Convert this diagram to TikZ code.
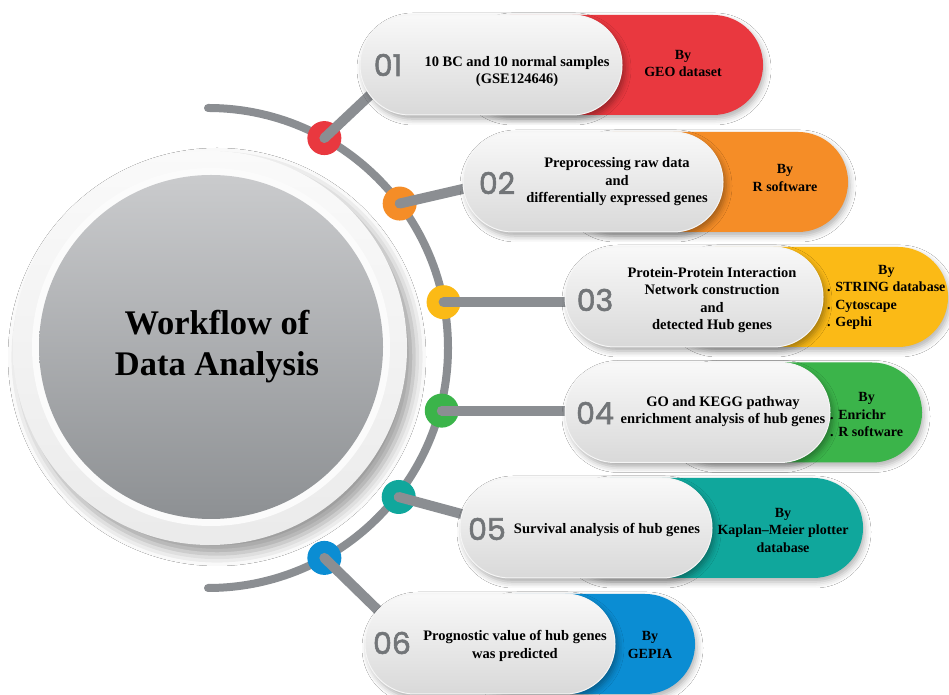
\documentclass[tikz,border=0pt]{standalone}
\usepackage{fontspec}
\setmainfont{Liberation Serif}
\newfontfamily\numfont[FakeBold=2]{Poppins}
\usetikzlibrary{shadows.blur,calc}

\definecolor{linegray}{HTML}{8B8E92}
\definecolor{numgray}{HTML}{727578}
\definecolor{discTop}{HTML}{CACBCD}
\definecolor{discBot}{HTML}{8D9093}
\definecolor{cRed}{HTML}{E9383F}
\definecolor{cOrange}{HTML}{F58D27}
\definecolor{cYellow}{HTML}{FBBA16}
\definecolor{cGreen}{HTML}{3BB44A}
\definecolor{cTeal}{HTML}{10A79C}
\definecolor{cBlue}{HTML}{0B8DD3}

\tikzset{
  capsule/.style={rectangle, rounded corners=49.9pt, minimum height=100pt,
    inner sep=0pt, draw=none},
  greypill/.style={capsule, top color=gray!5, bottom color=gray!30,
    draw=white!92!gray, line width=1pt,
    blur shadow={shadow xshift=3pt, shadow yshift=-4pt,
      shadow blur radius=6pt, shadow opacity=35}},
  colpill/.style={capsule, fill=#1,
    blur shadow={shadow xshift=2pt, shadow yshift=-4pt,
      shadow blur radius=6pt, shadow opacity=30}},
  dotnode/.style={circle, minimum size=34pt, inner sep=0pt, fill=#1},
  conn/.style={draw=linegray, line width=10pt, line cap=round},
  numtxt/.style={text=numgray, font=\numfont\fontsize{30}{30}\selectfont},
  maintxt/.style={align=center, inner sep=0pt,
    font=\bfseries\fontsize{14.5}{17.5}\selectfont},
  bytxt/.style={align=center, inner sep=0pt,
    font=\bfseries\fontsize{14}{17.5}\selectfont},
  titletxt/.style={align=center, inner sep=0pt,
    font=\bfseries\fontsize{34.5}{41}\selectfont}
}

\begin{document}
\begin{tikzpicture}[x=1pt,y=1pt]
\useasboundingbox (0,0) rectangle (949,695);
\fill[white] (0,0) rectangle (949,695);

% central disc with halo and rim
\coordinate (c) at (208,347);
\node[circle, minimum size=394pt, inner sep=0pt,
      top color=white!96!gray, bottom color=white!84!gray,
      blur shadow={shadow xshift=7pt, shadow yshift=-9pt,
        shadow blur radius=12pt, shadow opacity=40}] (halo) at (210,347) {};
\node[circle, minimum size=358pt, inner sep=0pt, fill=white!97!gray] (rim) at (211,348) {};
\node[circle, minimum size=344pt, inner sep=0pt,
      top color=discTop, bottom color=discBot] (disc) at (211,348) {};
\node[titletxt] (title) at (217,348) {Workflow of\\Data Analysis};

% timeline arc
\draw[draw=linegray, line width=8pt, line cap=round]
  (208,587) arc[start angle=90, end angle=-90, radius=240];

% step markers on the arc
\node[dotnode=cRed]    (d1) at ([shift={(61:240)}]c) {};
\node[dotnode=cOrange] (d2) at ([shift={(37:240)}]c) {};
\node[dotnode=cYellow] (d3) at ([shift={(11:240)}]c) {};
\node[dotnode=cGreen]  (d4) at ([shift={(-15:242)}]c) {};
\node[dotnode=cTeal]   (d5) at ([shift={(-38:242)}]c) {};
\node[dotnode=cBlue]   (d6) at ([shift={(-61:240)}]c) {};

% pill positions
\coordinate (g1pos) at (491,630);
\coordinate (g2pos) at (593,513);
\coordinate (g3pos) at (694,398);
\coordinate (g4pos) at (697.5,282.5);
\coordinate (g5pos) at (586,167);
\coordinate (g6pos) at (490,51);

% connector ends (hidden under the pills)
\coordinate (e1) at (385,614);
\coordinate (e2) at (480,510);
\coordinate (e5) at (480,176);
\coordinate (e6) at (388,75);

\draw[conn] (d1.center) -- (e1);
\draw[conn] (d2.center) -- (e2);
\draw[conn] (d3.center) -- (d3 -| g3pos);
\draw[conn] (d4.center) -- (d4 -| g4pos);
\draw[conn] (d5.center) -- (e5);
\draw[conn] (d6.center) -- (e6);

% coloured tool pills
\node[colpill=cRed,    minimum width=303pt] (k1) at (611.5,630) {};
\node[colpill=cOrange, minimum width=285pt] (k2) at (705.5,513) {};
\node[colpill=cYellow, minimum width=283pt] (k3) at (806.5,398) {};
\node[colpill=cGreen,  minimum width=257pt] (k4) at (793.5,282.5) {};
\node[colpill=cTeal,   minimum width=303pt] (k5) at (711.5,167) {};
\node[colpill=cBlue,   minimum width=230pt] (k6) at (580,51) {};

% grey step pills
\node[greypill, minimum width=262pt] (g1) at (g1pos) {};
\node[greypill, minimum width=260pt] (g2) at (g2pos) {};
\node[greypill, minimum width=258pt] (g3) at (g3pos) {};
\node[greypill, minimum width=265pt] (g4) at (g4pos) {};
\node[greypill, minimum width=252pt] (g5) at (g5pos) {};
\node[greypill, minimum width=250pt] (g6) at (g6pos) {};

% step numbers
\node[numtxt] (n1) at (388,630) {01};
\node[numtxt] (n2) at (497,512) {02};
\node[numtxt] (n3) at (595,395) {03};
\node[numtxt] (n4) at (595,282) {04};
\node[numtxt] (n5) at (487,166) {05};
\node[numtxt] (n6) at (392,52) {06};

% step descriptions
\node[maintxt] (t1) at (517,623.5) {10 BC and 10 normal samples\\(GSE124646)};
\node[maintxt] (t2) at (617,513) {Preprocessing raw data\\and\\differentially expressed genes};
\node[maintxt] (t3) at (712,395) {Protein-Protein Interaction\\Network construction\\and\\detected Hub genes};
\node[maintxt] (t4) at (723,283.5) {GO and KEGG pathway\\enrichment analysis of hub genes};
\node[maintxt] (t5) at (607,165) {Survival analysis of hub genes};
\node[maintxt] (t6) at (515,49) {Prognostic value of hub genes\\was predicted};

% tools
\node[bytxt] (b1) at (683,631.5) {By\\GEO dataset};
\node[bytxt] (b2) at (785,517) {By\\R software};
\node[bytxt, anchor=west] (b3) at (827,398)
  {\begin{tabular}{@{}l@{}}\multicolumn{1}{@{}c@{}}{By}\\. STRING database\\. Cytoscape\\. Gephi\end{tabular}};
\node[bytxt, anchor=west] (b4) at (830,279)
  {\begin{tabular}{@{}l@{}}\multicolumn{1}{@{}c@{}}{By}\\. Enrichr\\. R software\end{tabular}};
\node[bytxt] (b5) at (783,165) {By\\Kaplan--Meier plotter\\database};
\node[bytxt] (b6) at (650,50) {By\\GEPIA};
\end{tikzpicture}
\end{document}
